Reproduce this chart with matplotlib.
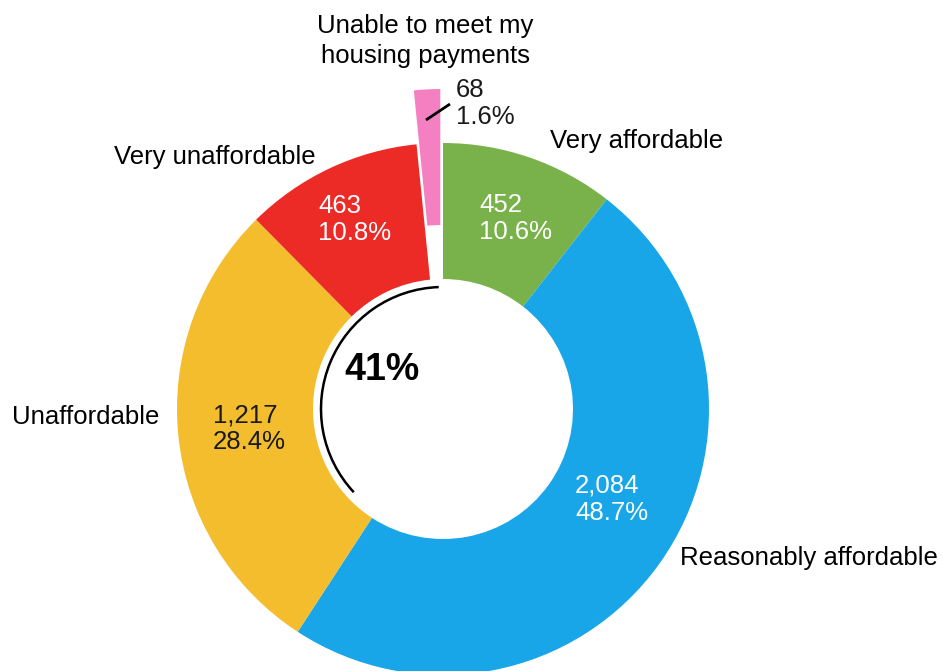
import numpy as np
import matplotlib
matplotlib.use('Agg')
import matplotlib.pyplot as plt
from matplotlib.patches import Arc

plt.rcParams['font.family'] = ['Liberation Sans', 'DejaVu Sans']

# survey answers, drawn clockwise from 12 o'clock
categories = ['Very affordable', 'Reasonably affordable', 'Unaffordable',
              'Very unaffordable', 'Unable to meet my\nhousing payments']
counts = [452, 2084, 1217, 463, 68]
percents = [10.6, 48.7, 28.4, 10.8, 1.6]
colors = ['#79b24b', '#19a6e9', '#f3bd2e', '#ec2a26', '#f47fc1']
unaffordable_share = 41

W, H = 943, 671
CX, CY, R = 443, 409, 266   # donut centre and radius in pixels


def px(x, y):
    # pixel position -> data units (radius 1 = R pixels)
    return (x - CX) / R, (CY - y) / R


fig = plt.figure(figsize=(W / 100, H / 100), dpi=100)
ax = fig.add_axes([0, 0, 1, 1])

explode = [0, 0, 0, 0, 54 / R]
wedges, _ = ax.pie(counts, colors=colors, startangle=90, counterclock=False,
                   explode=explode, radius=1,
                   wedgeprops=dict(width=1 - 130 / R, linewidth=0))

# pie() resets the limits, so set them afterwards
ax.set_xlim(-CX / R, (W - CX) / R)
ax.set_ylim(-(H - CY) / R, CY / R)
ax.set_aspect('equal')
ax.axis('off')

# black arc inside the hole marking the unaffordable side
ax.add_patch(Arc((0, 0), 2 * 122 / R, 2 * 122 / R, theta1=92, theta2=223,
                 color='black', lw=1.8))
ax.text(*px(382, 380), f'{unaffordable_share}%', ha='center', va='baseline',
        fontsize=27, fontweight='bold', color='black')

fs = 18.5
# outer category labels
ax.text(*px(550, 148), categories[0], ha='left', va='baseline', fontsize=fs)
ax.text(*px(938, 565), categories[1], ha='right', va='baseline', fontsize=fs)
ax.text(*px(12, 424), categories[2], ha='left', va='baseline', fontsize=fs)
ax.text(*px(316, 164), categories[3], ha='right', va='baseline', fontsize=fs)
ax.text(*px(425, 33), categories[4].split('\n')[0], ha='center', va='baseline', fontsize=fs)
ax.text(*px(425, 63), categories[4].split('\n')[1], ha='center', va='baseline', fontsize=fs)

# value labels: count on the first line, share below
value_pos = [(479, 212), (575, 493), (213, 422), (318, 213), (456, 97)]
value_col = ['white', 'white', '#1a1a1a', 'white', '#1a1a1a']
for (x, y), c, p, col in zip(value_pos, counts, percents, value_col):
    ax.text(*px(x, y), f'{c:,}', ha='left', va='baseline', fontsize=fs, color=col)
    ax.text(*px(x, y + 27), f'{p}%', ha='left', va='baseline', fontsize=fs, color=col)

# leader from the small exploded slice to its value
ax.plot(*zip(px(426, 120), px(450, 104)), color='black', lw=2, solid_capstyle='butt')

fig.savefig('out.png', dpi=100)
